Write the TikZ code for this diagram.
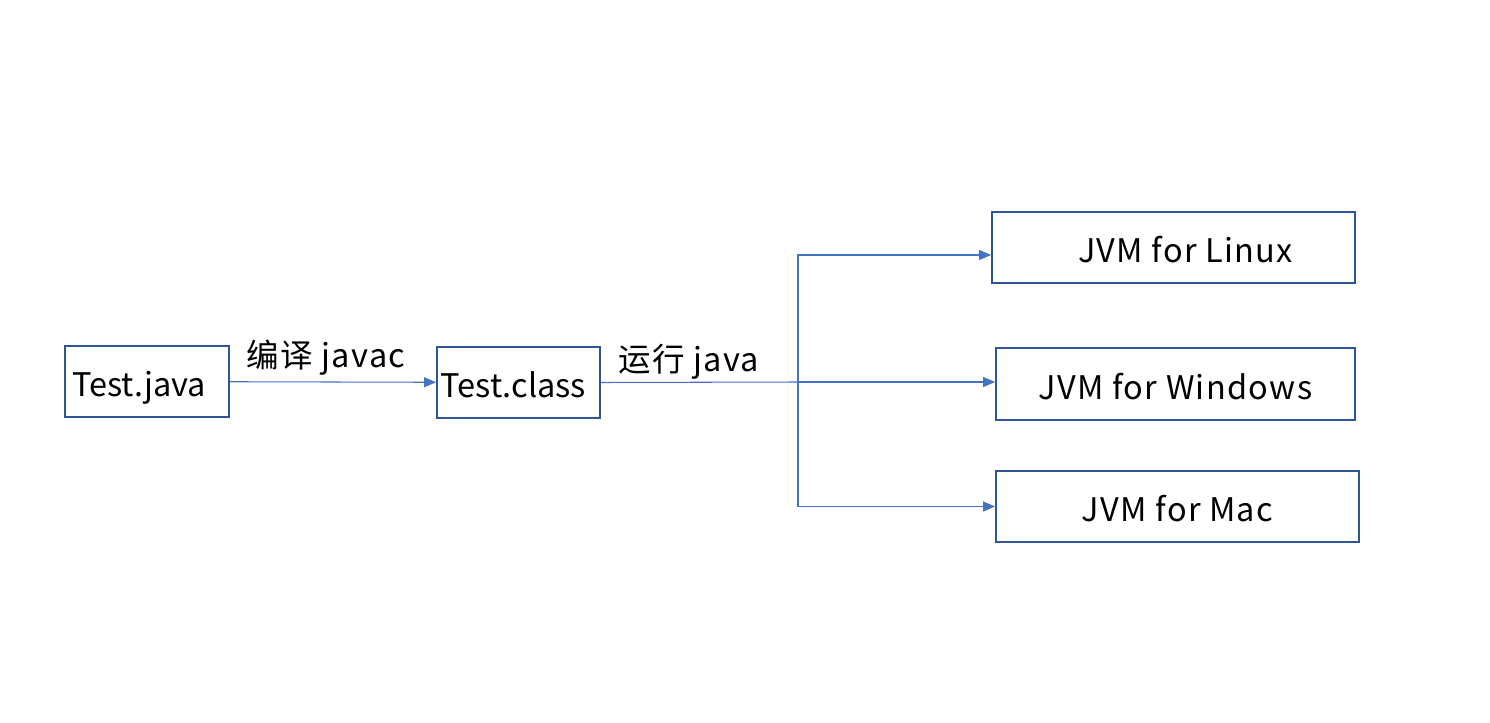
\documentclass[tikz,border=0pt]{standalone}
\usepackage{fontspec}
\setmainfont{Noto Sans CJK SC}[LetterSpace=4]
\newfontfamily\plainfont{Noto Sans CJK SC}
\usetikzlibrary{arrows.meta}
\definecolor{boxblue}{HTML}{2F5597}
\definecolor{lineblue}{HTML}{4472C4}

\begin{document}
\begin{tikzpicture}[x=0.02cm, y=-0.02cm, font=\fontsize{18.5}{22}\selectfont,
    box/.style = {draw=boxblue, line width=1.1pt, inner sep=0pt, minimum height=1.42cm,
                  text height=0.6cm, text depth=0pt},
    flow/.style = {draw=lineblue, line width=0.6pt, -{Triangle[length=0.24cm,width=0.2cm]}}]
    \useasboundingbox (0,0) rectangle (1490,723);

    % source and bytecode
    \node[box, minimum width=3.28cm, font=\plainfont\fontsize{18.5}{22}\selectfont] (java) at (147,381.5) {\hspace{-0.32cm}Test.java};
    \node[box, minimum width=3.26cm, font=\plainfont\fontsize{18.5}{22}\selectfont] (class) at (518.5,382.5) {\hspace{-0.2cm}Test.class};
    \node (compile) at (326,358) {编译 javac};
    \node (run) at (689,362) {运行 java};

    % one virtual machine per platform
    \node[box, minimum width=7.26cm] (linux) at (1173.5,247.5) {\hspace{0.48cm}JVM for Linux};
    \node[box, minimum width=7.18cm, minimum height=1.44cm] (windows) at (1175.5,384) {JVM for Windows};
    \node[box, minimum width=7.26cm] (mac) at (1177.5,506.5) {JVM for Mac};

    \coordinate (split) at (798,382);
    \draw[flow] (java) -- (class);
    \draw[draw=lineblue, line width=0.6pt] (class.east) -- (split);
    \draw[flow] (split) |- ([yshift=-0.15cm]linux.west);
    \draw[flow] (split) -- (split -| windows.west);
    \draw[flow] (split) |- (mac.west);
\end{tikzpicture}
\end{document}
